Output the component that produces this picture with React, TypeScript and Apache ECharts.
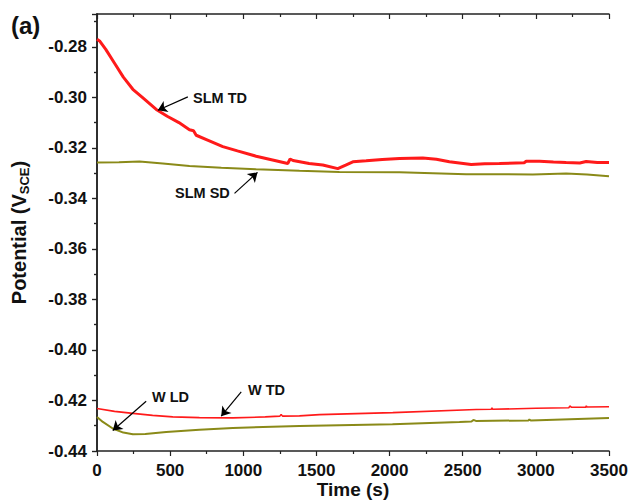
import React, { useEffect, useRef } from "react";
import * as echarts from "echarts";

// SLM TD (red, upper)
const slmTdTime = [0, 20, 60, 120, 180, 245, 320, 405, 480, 560, 632, 660, 678, 760, 860, 960, 1088, 1200, 1304, 1320, 1340, 1450, 1543, 1646, 1700, 1749, 1840, 1950, 2068, 2227, 2320, 2409, 2558, 2650, 2751, 2920, 2934, 3025, 3120, 3207, 3300, 3344, 3420, 3500];
const slmTdValue = [-0.2770, -0.2778, -0.2810, -0.2865, -0.2920, -0.2968, -0.3005, -0.3048, -0.3075, -0.3100, -0.3128, -0.3132, -0.3150, -0.3170, -0.3195, -0.3212, -0.3233, -0.3248, -0.3262, -0.3244, -0.3250, -0.3262, -0.3268, -0.3282, -0.3268, -0.3255, -0.3251, -0.3246, -0.3242, -0.3240, -0.3245, -0.3255, -0.3266, -0.3263, -0.3262, -0.3259, -0.3253, -0.3253, -0.3256, -0.3258, -0.3260, -0.3254, -0.3258, -0.3258];

// SLM SD (olive, upper)
const slmSdTime = [0, 150, 290, 450, 632, 850, 1088, 1384, 1657, 2068, 2523, 2979, 3207, 3350, 3500];
const slmSdValue = [-0.3258, -0.3257, -0.3254, -0.3262, -0.3272, -0.3279, -0.3285, -0.3291, -0.3295, -0.3296, -0.3304, -0.3305, -0.3301, -0.3305, -0.3312];

// W TD (red, lower)
const wTdTime = [0, 120, 245, 380, 518, 700, 928, 1150, 1250, 1259, 1268, 1384, 1521, 2022, 2592, 2695, 2700, 2705, 3000, 3225, 3232, 3245, 3340, 3345, 3350, 3500];
const wTdValue = [-0.4232, -0.4243, -0.4251, -0.4259, -0.4265, -0.4268, -0.4269, -0.4265, -0.4262, -0.4255, -0.4262, -0.4261, -0.4256, -0.4248, -0.4236, -0.4235, -0.4229, -0.4235, -0.4231, -0.4229, -0.4222, -0.4227, -0.4227, -0.4221, -0.4226, -0.4225];

// W LD (olive, lower)
const wLdTime = [0, 40, 108, 180, 245, 330, 473, 700, 928, 1384, 2020, 2478, 2560, 2573, 2590, 2950, 2956, 2965, 3500];
const wLdValue = [-0.4265, -0.4285, -0.4311, -0.4327, -0.4334, -0.4333, -0.4325, -0.4316, -0.4309, -0.4301, -0.4294, -0.4285, -0.4283, -0.4277, -0.4281, -0.4279, -0.4275, -0.4279, -0.4269];

// Annotation arrows: [tailTime, tailValue, headTime, headValue]
const arrowSlmTd = [621, -0.2998, 416, -0.3051];
const arrowSlmSd = [940, -0.3380, 1097, -0.3297];
const arrowWLd = [336, -0.4203, 108, -0.4319];
const arrowWTd = [986, -0.4166, 849, -0.4262];

const xTicks = { min: 0, max: 3500, interval: 500 };
const yTicks = { min: -0.44, max: -0.267, interval: 0.02 };

const RED = "#ff1a1a";
const OLIVE = "#8a8a18";
const FONT = "'Liberation Sans', Arial, sans-serif";

function zip(t: number[], v: number[]) {
  return t.map((x, i) => [x, v[i]]);
}

function arrow(a: number[]) {
  return {
    silent: true,
    symbol: ["none", "arrow"],
    symbolSize: 9,
    label: { show: false },
    lineStyle: { color: "#000", width: 1.2, type: "solid" },
    emphasis: { disabled: true },
    data: [[{ coord: [a[0], a[1]] }, { coord: [a[2], a[3]] }]],
  };
}

export default function App() {
  const ref = useRef<HTMLDivElement>(null);
  useEffect(() => {
    if (!ref.current) return;
    const chart = echarts.init(ref.current, undefined, { renderer: "svg" });
    const axisLine = { show: true, lineStyle: { color: "#222", width: 1.5 } };
    const label = { color: "#111", fontSize: 17, fontWeight: "bold", fontFamily: FONT };
    chart.setOption({
      animation: false,
      backgroundColor: "#fff",
      grid: { left: 97, right: 21, top: 14, bottom: 50, containLabel: false, outerBoundsMode: "none" },
      xAxis: [
        {
          type: "value",
          position: "bottom",
          ...xTicks,
          axisLine,
          axisTick: { show: true, inside: false, length: 5, lineStyle: { color: "#222", width: 1.2 } },
          minorTick: { show: true, splitNumber: 2, length: 3, lineStyle: { color: "#222", width: 1.2 } },
          splitLine: { show: false },
          axisLabel: { ...label, margin: 11, formatter: (v: number) => String(v) },
          name: "Time (s)",
          nameLocation: "middle",
          nameGap: 29,
          nameMoveOverlap: false,
          nameTextStyle: { color: "#111", fontSize: 19, fontWeight: "bold", fontFamily: FONT },
        },
        {
          type: "value",
          position: "top",
          ...xTicks,
          axisLine,
          axisTick: { show: true, inside: true, length: 5, lineStyle: { color: "#222", width: 1.2 } },
          minorTick: { show: true, splitNumber: 2, length: 3, lineStyle: { color: "#222", width: 1.2 } },
          splitLine: { show: false },
          axisLabel: { show: false },
        },
      ],
      yAxis: [
        {
          type: "value",
          position: "left",
          ...yTicks,
          axisLine,
          axisTick: { show: true, inside: false, length: 5, lineStyle: { color: "#222", width: 1.2 } },
          minorTick: { show: true, splitNumber: 2, length: 3, lineStyle: { color: "#222", width: 1.2 } },
          splitLine: { show: false },
          axisLabel: {
            ...label,
            margin: 10,
            showMaxLabel: false,
            formatter: (v: number) => v.toFixed(2),
          },
          name: "Potential (V{sub|SCE})",
          nameLocation: "middle",
          nameGap: 66,
          nameRotate: 90,
          nameTextStyle: {
            color: "#111",
            fontSize: 20,
            fontWeight: "bold",
            fontFamily: FONT,
            lineHeight: 24,
            rich: {
              sub: { fontSize: 13, fontWeight: "bold", fontFamily: FONT, color: "#111", verticalAlign: "bottom", lineHeight: 24 },
            },
          },
        },
        {
          type: "value",
          position: "right",
          ...yTicks,
          axisLine,
          axisTick: { show: true, inside: true, length: 5, lineStyle: { color: "#222", width: 1.2 } },
          minorTick: { show: true, splitNumber: 2, length: 3, lineStyle: { color: "#222", width: 1.2 } },
          splitLine: { show: false },
          axisLabel: { show: false },
        },
      ],
      series: [
        {
          name: "SLM SD",
          type: "line",
          data: zip(slmSdTime, slmSdValue),
          showSymbol: false,
          lineStyle: { color: OLIVE, width: 2 },
          markLine: arrow(arrowSlmSd),
        },
        {
          name: "SLM TD",
          type: "line",
          data: zip(slmTdTime, slmTdValue),
          showSymbol: false,
          lineStyle: { color: RED, width: 3 },
          markLine: arrow(arrowSlmTd),
        },
        {
          name: "W LD",
          type: "line",
          data: zip(wLdTime, wLdValue),
          showSymbol: false,
          lineStyle: { color: OLIVE, width: 2 },
          markLine: arrow(arrowWLd),
        },
        {
          name: "W TD",
          type: "line",
          data: zip(wTdTime, wTdValue),
          showSymbol: false,
          lineStyle: { color: RED, width: 1.6 },
          markLine: arrow(arrowWTd),
        },
      ],
      graphic: [
        { type: "text", left: 11, top: 13, style: { text: "(a)", font: `bold 24px ${FONT}`, fill: "#111" } },
        { type: "text", x: 193, y: 98, style: { text: "SLM TD", font: `bold 14.5px ${FONT}`, fill: "#111", verticalAlign: "middle" } },
        { type: "text", x: 175, y: 193, style: { text: "SLM SD", font: `bold 14.5px ${FONT}`, fill: "#111", verticalAlign: "middle" } },
        { type: "text", x: 152, y: 397, style: { text: "W LD", font: `bold 14.5px ${FONT}`, fill: "#111", verticalAlign: "middle" } },
        { type: "text", x: 248, y: 390, style: { text: "W TD", font: `bold 14.5px ${FONT}`, fill: "#111", verticalAlign: "middle" } },
      ],
    });
    return () => chart.dispose();
  }, []);
  return <div ref={ref} style={{ width: 630, height: 501, position: "fixed", left: 0, top: 0 }} />;
}
